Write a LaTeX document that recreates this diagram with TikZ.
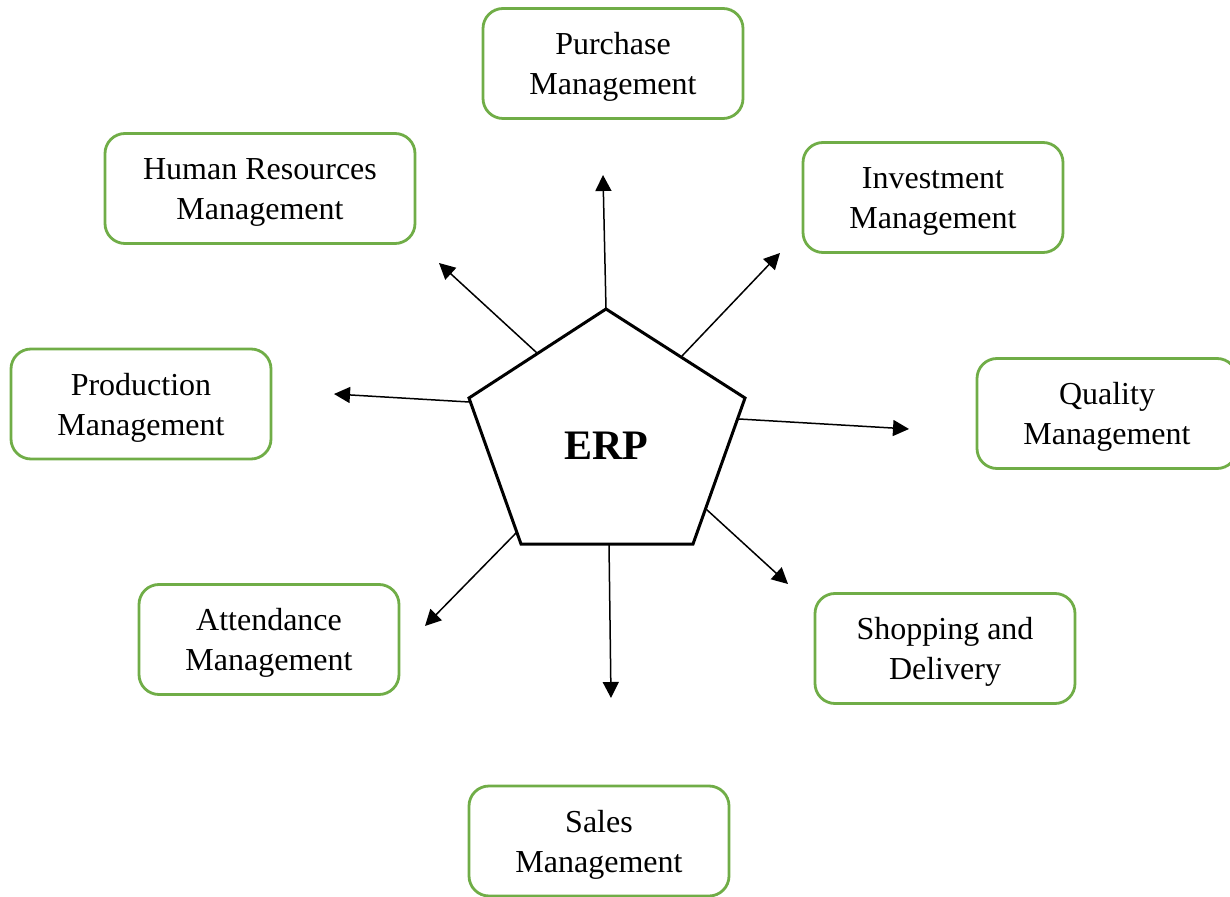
\documentclass[tikz,border=0pt]{standalone}
\usepackage{fontspec}
\setmainfont{Liberation Serif}
\usetikzlibrary{arrows.meta}
\definecolor{boxgreen}{HTML}{70AD47}
\newcommand\twolines[2]{\rule{0pt}{14.5pt}#1\\#2}
\tikzset{
  modbox/.style={draw=boxgreen, line width=1.4pt, rounded corners=10pt,
    minimum width=130pt, minimum height=55pt, align=center, inner sep=0pt,
    font=\fontsize{16}{20}\selectfont},
  flow/.style={line width=0.75pt, -{Triangle[length=8pt,width=8pt]}},
  pent/.style={line width=1.5pt, line join=miter},
}
\begin{document}
\begin{tikzpicture}[x=0.5pt,y=-0.5pt]
\useasboundingbox (0,0) rectangle (1230,897);
% boxes
\node[modbox] (pur) at (613,63.5) {\twolines{Purchase}{Management}};
\node[modbox, minimum width=155pt] (hr) at (260,188.5) {\twolines{Human Resources}{Management}};
\node[modbox] (inv) at (933,197.5) {\twolines{Investment}{Management}};
\node[modbox] (pro) at (141,404) {\twolines{Production}{Management}};
\node[modbox] (qua) at (1107,413.5) {\twolines{Quality}{Management}};
\node[modbox] (att) at (269,639.5) {\twolines{Attendance}{Management}};
\node[modbox] (shp) at (945,648.5) {\twolines{Shopping and}{Delivery}};
\node[modbox] (sal) at (599,841) {\twolines{Sales}{Management}};
% pentagon
\coordinate (pT) at (606,309);
\coordinate (pR) at (745,398);
\coordinate (pBR) at (693,544);
\coordinate (pBL) at (521,544);
\coordinate (pL) at (469,398);
\draw[pent] (pT) -- (pR) -- (pBR) -- (pBL) -- (pL) -- cycle;
\node[font=\fontsize{21}{25}\selectfont\bfseries] (erp) at (606,446) {ERP};
% arrow start points on pentagon edges
\coordinate (sU) at (606,309);
\coordinate (sUR) at (682,356);
\coordinate (sUL) at (537,353);
\coordinate (sL) at (469,402);
\coordinate (sR) at (739,419);
\coordinate (sLR) at (706,509);
\coordinate (sLL) at (517,532);
\coordinate (sD) at (609,544);
% arrow end points
\coordinate (eU) at (603,175);
\coordinate (eUR) at (780,253);
\coordinate (eUL) at (439,263);
\coordinate (eL) at (334,394);
\coordinate (eR) at (909,429);
\coordinate (eLR) at (788,584);
\coordinate (eLL) at (425,626);
\coordinate (eD) at (611,698);
\draw[flow] (sU) -- (eU);
\draw[flow] (sUR) -- (eUR);
\draw[flow] (sUL) -- (eUL);
\draw[flow] (sL) -- (eL);
\draw[flow] (sR) -- (eR);
\draw[flow] (sLR) -- (eLR);
\draw[flow] (sLL) -- (eLL);
\draw[flow] (sD) -- (eD);
\end{tikzpicture}
\end{document}
